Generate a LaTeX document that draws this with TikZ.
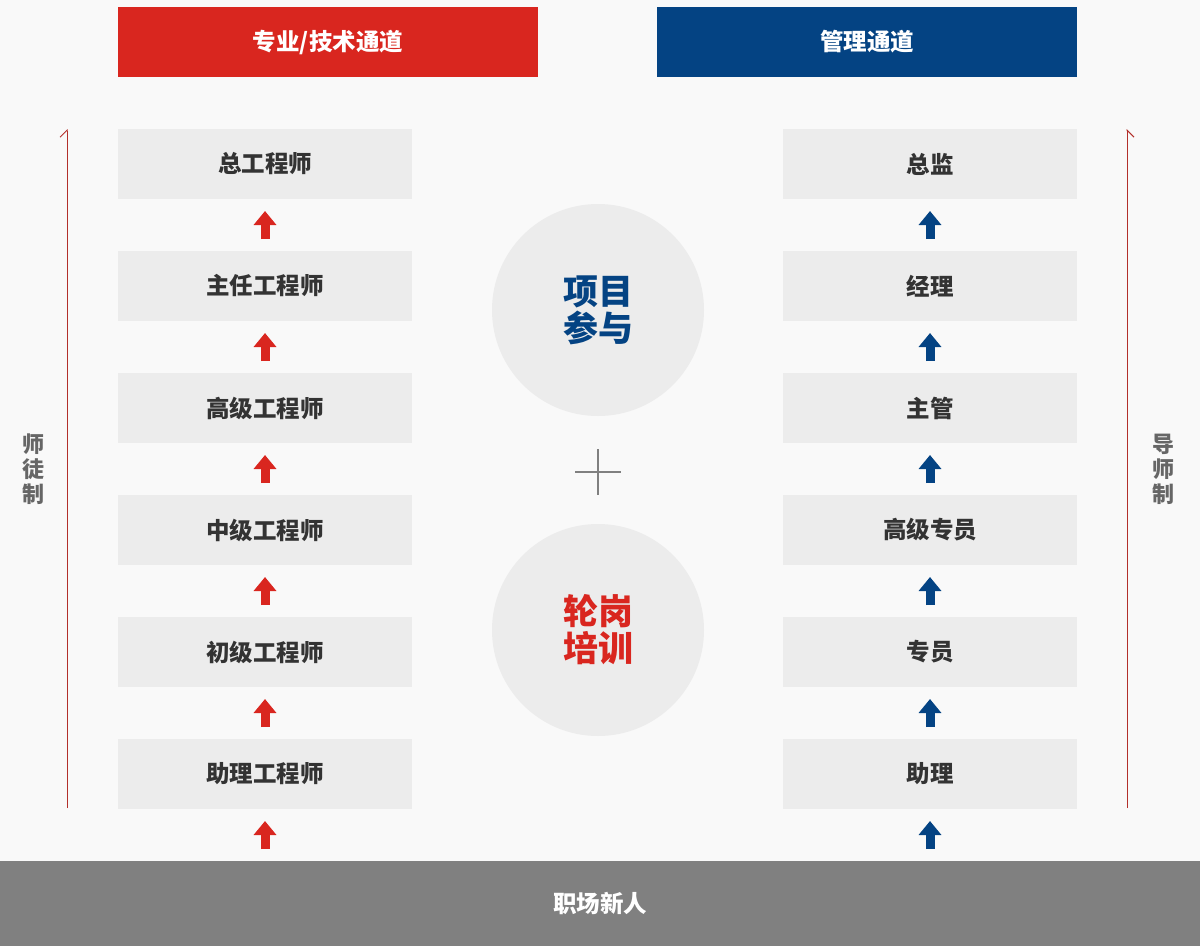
\documentclass[tikz,border=0pt]{standalone}
\usepackage{fontspec}
\setmainfont{Noto Sans CJK SC}
\usetikzlibrary{positioning}
\usetikzlibrary{arrows.meta}
\definecolor{chanred}{HTML}{D9261F}
\definecolor{chanblue}{HTML}{044383}
\definecolor{boxgray}{HTML}{ECECEC}
\definecolor{pagebg}{HTML}{F9F9F9}
\definecolor{txtdark}{HTML}{333333}
\definecolor{txtside}{HTML}{666666}
\definecolor{bargray}{HTML}{808080}
\definecolor{linered}{HTML}{B3302B}

\begin{document}
\begin{tikzpicture}[x=1pt, y=-1pt,
      head/.style ={rectangle, minimum width=420pt, minimum height=70pt, inner sep=0pt, outer sep=0pt, text=white, font=\fontsize{23.5}{27}\selectfont\bfseries},
      rung/.style ={rectangle, fill=boxgray, minimum width=294pt, minimum height=70pt, inner sep=0pt, outer sep=0pt, text=txtdark, font=\fontsize{23.5}{27}\selectfont\bfseries},
      hub/.style ={circle, fill=boxgray, minimum size=212pt, inner sep=0pt, align=center, font=\fontsize{35}{37}\selectfont\bfseries},
      sidetxt/.style ={text=txtside, align=center, inner sep=0pt, font=\fontsize{22}{25}\selectfont\bfseries},
      uparr/.style ={line width=9pt, -{Triangle[width=22pt 0, length=14pt 0]}, shorten <=12pt, shorten >=12pt},
      sideline/.style ={draw=linered, line width=1pt},
      node distance=52pt
    ]
    \useasboundingbox (0,0) rectangle (1200,946) ;
    \fill [pagebg] (0,0) rectangle (1200,946) ;

    % channel headers
    \node [head, fill=chanred] (htech) at (328,42) {专业/技术通道} ;
    \node [head, fill=chanblue] (hmgmt) at (867,42) {管理通道} ;

    % technical ladder
    \node [rung] (tchief) at (265,164) {总工程师} ;
    \node [rung] (tlead) [below=of tchief] {主任工程师} ;
    \node [rung] (tsenior) [below=of tlead] {高级工程师} ;
    \node [rung] (tmid) [below=of tsenior] {中级工程师} ;
    \node [rung] (tjunior) [below=of tmid] {初级工程师} ;
    \node [rung] (tasst) [below=of tjunior] {助理工程师} ;

    % management ladder
    \node [rung] (mdir) at (930,164) {总监} ;
    \node [rung] (mmgr) [below=of mdir] {经理} ;
    \node [rung] (msup) [below=of mmgr] {主管} ;
    \node [rung] (msenior) [below=of msup] {高级专员} ;
    \node [rung] (mspec) [below=of msenior] {专员} ;
    \node [rung] (masst) [below=of mspec] {助理} ;

    \node [rectangle, fill=bargray, minimum width=1200pt, minimum height=85pt, inner sep=0pt, outer sep=0pt, text=white, font=\fontsize{23.5}{27}\selectfont\bfseries] (entry) at (600,903.5) {职场新人} ;

    \node [hub, text=chanblue] (proj) at (598,310) {项目\\参与} ;
    \node [hub, text=chanred] (rota) at (598,630) {轮岗\\培训} ;
    \coordinate (plus) at (598,472) ;
    \draw [draw=bargray, line width=2pt] (plus) +(-23,0) -- +(23,0) (plus) +(0,-23) -- +(0,23) ;

    \draw [uparr, chanred] (entry.north -| tasst.south) -- (tasst.south) ;
    \draw [uparr, chanred] (tasst) -- (tjunior) ;
    \draw [uparr, chanred] (tjunior) -- (tmid) ;
    \draw [uparr, chanred] (tmid) -- (tsenior) ;
    \draw [uparr, chanred] (tsenior) -- (tlead) ;
    \draw [uparr, chanred] (tlead) -- (tchief) ;

    \draw [uparr, chanblue] (entry.north -| masst.south) -- (masst.south) ;
    \draw [uparr, chanblue] (masst) -- (mspec) ;
    \draw [uparr, chanblue] (mspec) -- (msenior) ;
    \draw [uparr, chanblue] (msenior) -- (msup) ;
    \draw [uparr, chanblue] (msup) -- (mmgr) ;
    \draw [uparr, chanblue] (mmgr) -- (mdir) ;

    % mentoring lines
    \coordinate (lbot) at (67,808) ;
    \coordinate (ltop) at (67,129) ;
    \coordinate (rbot) at (1127,808) ;
    \coordinate (rtop) at (1127,129) ;
    \draw [sideline, -{Straight Barb[left, length=7pt 0, width=14pt 0]}] (lbot) -- (ltop) ;
    \draw [sideline, -{Straight Barb[right, length=7pt 0, width=14pt 0]}] (rbot) -- (rtop) ;
    \node [sidetxt] (lside) at (33,469) {师\\徒\\制} ;
    \node [sidetxt] (rside) at (1163,469) {导\\师\\制} ;
  \end{tikzpicture}
\end{document}
